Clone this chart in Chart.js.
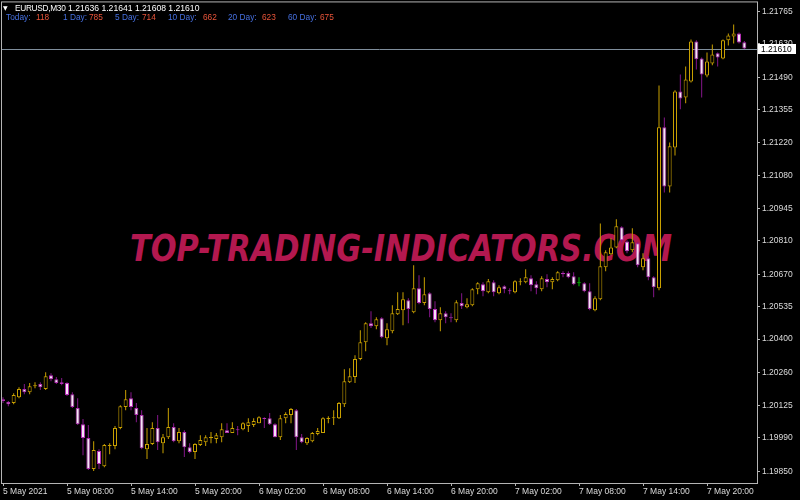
<!DOCTYPE html>
<html>
<head>
<meta charset="utf-8">
<script src="https://cdn.jsdelivr.net/npm/chart.js@4/dist/chart.umd.min.js"></script>
<style>
html,body{margin:0;padding:0;background:#000;overflow:hidden;}
#wrap{position:relative;width:800px;height:500px;background:#000;}
#wm{position:absolute;left:130px;top:229px;z-index:0;color:#b3184f;font:italic bold 38px 'DejaVu Sans',sans-serif;line-height:38px;white-space:nowrap;transform-origin:0 0;}
#c{position:absolute;left:0;top:0;z-index:1;}
.h{position:absolute;z-index:2;font:8.3px 'Liberation Sans',Arial,sans-serif;line-height:8px;white-space:nowrap;}
.w{color:#ffffff;}
.b{color:#4670e0;}
.r{color:#ea553a;}
</style>
</head>
<body>
<div id="wrap">
  <div id="wm">TOP-TRADING-INDICATORS.COM</div>
  <canvas id="c" width="800" height="500"></canvas>
  <span class="h w" style="left:3px;top:4px;font-family:'DejaVu Sans';font-size:6px;">▼</span>
  <span class="h w" style="left:15px;top:4px;letter-spacing:-0.3px;">EURUSD,M30</span>
  <span class="h w" style="left:68px;top:4px;font-size:8.6px;">1.21636 1.21641 1.21608 1.21610</span>
  <span class="h b" style="left:6px;top:13px;">Today:</span><span class="h r" style="left:36px;top:13px;">118</span>
  <span class="h b" style="left:63px;top:13px;">1 Day:</span><span class="h r" style="left:89px;top:13px;">785</span>
  <span class="h b" style="left:115px;top:13px;">5 Day:</span><span class="h r" style="left:142px;top:13px;">714</span>
  <span class="h b" style="left:168px;top:13px;">10 Day:</span><span class="h r" style="left:203px;top:13px;">662</span>
  <span class="h b" style="left:228px;top:13px;">20 Day:</span><span class="h r" style="left:262px;top:13px;">623</span>
  <span class="h b" style="left:288px;top:13px;">60 Day:</span><span class="h r" style="left:320px;top:13px;">675</span>
</div>
<script>
// EURUSD M30, 5 May 2021 02:00 ... 7 May 2021 23:30 (140 bars)
const open = [1.20150,1.20138,1.20134,1.20158,1.20192,1.20179,1.20204,1.20213,1.20192,1.20250,
1.20233,1.20221,1.20217,1.20171,1.20113,1.20046,1.19988,1.19859,1.19934,1.19871,
1.19955,1.19955,1.20030,1.20117,1.20154,1.20113,1.20084,1.19942,1.19963,1.20030,
1.19967,1.19992,1.20034,1.19975,1.20013,1.19950,1.19930,1.19959,1.19971,1.19988,
1.19984,1.19992,1.20021,1.20009,1.20025,1.20025,1.20038,1.20042,1.20050,1.20071,
1.20071,1.20046,1.19992,1.20071,1.20084,1.20104,1.19992,1.19967,1.19975,1.20005,
1.20009,1.20067,1.20071,1.20071,1.20129,1.20221,1.20242,1.20317,1.20387,1.20466,
1.20454,1.20487,1.20404,1.20433,1.20504,1.20520,1.20562,1.20512,1.20612,1.20550,
1.20591,1.20525,1.20479,1.20508,1.20491,1.20479,1.20550,1.20533,1.20541,1.20608,
1.20629,1.20595,1.20637,1.20591,1.20620,1.20604,1.20595,1.20637,1.20637,1.20654,
1.20629,1.20608,1.20650,1.20637,1.20645,1.20675,1.20675,1.20662,1.20633,1.20633,
1.20599,1.20520,1.20566,1.20699,1.20753,1.20782,1.20866,1.20807,1.20770,1.20799,
1.20699,1.20737,1.20658,1.20612,1.21282,1.21036,1.21198,1.21431,1.21406,1.21473,
1.21639,1.21569,1.21498,1.21548,1.21590,1.21569,1.21644,1.21660,1.21673,1.21636];
const high = [1.20158,1.20142,1.20175,1.20200,1.20213,1.20217,1.20221,1.20221,1.20262,1.20258,
1.20242,1.20238,1.20221,1.20179,1.20154,1.20067,1.20042,1.19975,1.19942,1.19963,
1.19967,1.20038,1.20125,1.20188,1.20179,1.20134,1.20104,1.20030,1.20054,1.20084,
1.20005,1.20113,1.20050,1.20030,1.20021,1.19967,1.19967,1.20000,1.20000,1.20013,
1.20009,1.20050,1.20050,1.20054,1.20038,1.20054,1.20071,1.20071,1.20079,1.20075,
1.20092,1.20050,1.20084,1.20096,1.20113,1.20109,1.20005,1.19992,1.20013,1.20030,
1.20075,1.20079,1.20104,1.20138,1.20275,1.20279,1.20333,1.20437,1.20470,1.20516,
1.20491,1.20491,1.20466,1.20541,1.20595,1.20595,1.20570,1.20708,1.20666,1.20658,
1.20595,1.20558,1.20533,1.20516,1.20508,1.20562,1.20591,1.20570,1.20612,1.20637,
1.20637,1.20650,1.20645,1.20624,1.20624,1.20612,1.20645,1.20654,1.20691,1.20666,
1.20641,1.20662,1.20670,1.20658,1.20683,1.20683,1.20683,1.20679,1.20658,1.20637,
1.20633,1.20579,1.20882,1.20770,1.20820,1.20899,1.20870,1.20812,1.20862,1.20803,
1.20758,1.20745,1.20662,1.21456,1.21323,1.21219,1.21436,1.21502,1.21535,1.21648,
1.21644,1.21573,1.21594,1.21627,1.21594,1.21648,1.21673,1.21710,1.21677,1.21641];
const low = [1.20134,1.20121,1.20129,1.20154,1.20171,1.20171,1.20196,1.20188,1.20188,1.20225,
1.20213,1.20208,1.20163,1.20113,1.20042,1.19917,1.19855,1.19851,1.19859,1.19867,
1.19921,1.19942,1.20025,1.20104,1.20104,1.20054,1.19942,1.19901,1.19959,1.19938,
1.19925,1.19984,1.19971,1.19967,1.19909,1.19925,1.19901,1.19955,1.19955,1.19967,
1.19967,1.19971,1.20009,1.20009,1.20000,1.20021,1.20013,1.20034,1.20050,1.20030,
1.20042,1.19992,1.19980,1.20050,1.20050,1.19938,1.19967,1.19959,1.19971,1.20000,
1.20009,1.20050,1.20042,1.20067,1.20117,1.20217,1.20217,1.20312,1.20350,1.20446,
1.20441,1.20404,1.20375,1.20425,1.20500,1.20458,1.20466,1.20508,1.20545,1.20541,
1.20491,1.20470,1.20433,1.20466,1.20470,1.20470,1.20525,1.20529,1.20537,1.20587,
1.20579,1.20591,1.20579,1.20587,1.20591,1.20587,1.20591,1.20624,1.20633,1.20599,
1.20587,1.20599,1.20616,1.20608,1.20641,1.20658,1.20654,1.20624,1.20620,1.20595,
1.20520,1.20516,1.20562,1.20683,1.20749,1.20778,1.20803,1.20758,1.20762,1.20699,
1.20687,1.20645,1.20574,1.20604,1.21011,1.21011,1.21165,1.21357,1.21382,1.21469,
1.21523,1.21406,1.21490,1.21540,1.21535,1.21565,1.21623,1.21631,1.21631,1.21608];
const close = [1.20142,1.20129,1.20167,1.20192,1.20179,1.20204,1.20208,1.20200,1.20246,1.20233,
1.20217,1.20213,1.20167,1.20117,1.20046,1.19988,1.19859,1.19938,1.19880,1.19959,
1.19959,1.20030,1.20121,1.20150,1.20117,1.20084,1.19946,1.19963,1.20030,1.19971,
1.19992,1.20034,1.19975,1.20013,1.19950,1.19930,1.19963,1.19980,1.19992,1.19992,
1.20000,1.20025,1.20009,1.20030,1.20021,1.20050,1.20054,1.20059,1.20075,1.20067,
1.20046,1.19992,1.20071,1.20088,1.20109,1.19992,1.19971,1.19988,1.20009,1.20017,
1.20071,1.20071,1.20075,1.20134,1.20225,1.20246,1.20317,1.20387,1.20466,1.20454,
1.20483,1.20408,1.20441,1.20508,1.20525,1.20566,1.20525,1.20612,1.20550,1.20587,
1.20525,1.20479,1.20508,1.20491,1.20487,1.20554,1.20537,1.20545,1.20608,1.20633,
1.20599,1.20641,1.20595,1.20616,1.20608,1.20599,1.20641,1.20641,1.20658,1.20624,
1.20612,1.20654,1.20637,1.20650,1.20679,1.20670,1.20658,1.20629,1.20633,1.20599,
1.20525,1.20570,1.20703,1.20762,1.20782,1.20870,1.20812,1.20766,1.20803,1.20708,
1.20737,1.20658,1.20616,1.21282,1.21036,1.21203,1.21431,1.21402,1.21481,1.21639,
1.21565,1.21502,1.21556,1.21585,1.21573,1.21644,1.21664,1.21673,1.21635,1.21610];

// time-axis labels and the bar index they sit on
const xTickIndex  = [0, 12, 24, 36, 48, 60, 72, 84, 96, 108, 120, 132];
const xTickLabels = ['5 May 2021','5 May 08:00','5 May 14:00','5 May 20:00','6 May 02:00','6 May 08:00',
                     '6 May 14:00','6 May 20:00','7 May 02:00','7 May 08:00','7 May 14:00','7 May 20:00'];
// price-axis tick labels
const yTicks = [1.21765,1.21630,1.21490,1.21355,1.21220,1.21080,1.20945,1.20810,1.20670,1.20535,1.20400,1.20260,1.20125,1.19990,1.19850];

const BULL = '#c8a000', BULL_FILL = '#000000';
const BEAR = '#b22fb2', BEAR_FILL = '#f7e2f7', BEAR_WICK = '#84168a';
const DOJI = '#00c000';

const idx = open.map((_, i) => i);
const kind = idx.map(i => close[i] > open[i] ? 1 : (close[i] < open[i] ? -1 : 0));
const bodyData = idx.map(i => ({x: i, y: [open[i], close[i]]}));
const wickData = idx.map(i => ({x: i, y: [low[i], high[i]]}));
const bodyBorder = kind.map(k => k > 0 ? BULL : (k < 0 ? BEAR : DOJI));
const bodyFill = kind.map(k => k > 0 ? BULL_FILL : (k < 0 ? BEAR_FILL : DOJI));
const wickColor = kind.map(k => k > 0 ? BULL : (k < 0 ? BEAR_WICK : DOJI));

const AXIS = '#b4b4b4';
const TXT = '#dcdcdc';
const FONT_X = {family: "'Liberation Sans', Arial, sans-serif", size: 8.5};
const FONT_Y = {family: "'Liberation Sans', Arial, sans-serif", size: 8.5, lineHeight: 0.1};

const frame = {
  id: 'frame',
  beforeDatasetsDraw(chart) {
    const {ctx, chartArea: a, scales: {y}} = chart;
    const py = Math.round(y.getPixelForValue(close[close.length - 1])) + 0.5;
    ctx.save();
    ctx.strokeStyle = '#7f8e9c';
    ctx.lineWidth = 1;
    ctx.beginPath();
    ctx.moveTo(a.left, py);
    ctx.lineTo(a.right, py);
    ctx.stroke();
    ctx.restore();
  },
  afterDraw(chart) {
    const {ctx, chartArea: a, scales: {y}} = chart;
    ctx.save();
    ctx.strokeStyle = AXIS;
    ctx.lineWidth = 1;
    ctx.strokeRect(a.left - 0.5, a.top - 0.5, a.right - a.left + 1, a.bottom - a.top + 1);
    const last = close[close.length - 1];
    const py = Math.round(y.getPixelForValue(last));
    ctx.fillStyle = '#ffffff';
    ctx.fillRect(a.right + 1, py - 5, 38, 10);
    ctx.fillStyle = '#000000';
    ctx.font = "8.5px 'Liberation Sans', Arial, sans-serif";
    ctx.textBaseline = 'middle';
    ctx.textAlign = 'left';
    ctx.fillText(last.toFixed(5), a.right + 4, py + 0.5);
    ctx.restore();
  }
};

new Chart(document.getElementById('c'), {
  type: 'bar',
  data: {
    datasets: [
      {
        label: 'body', data: bodyData, order: 0, grouped: false,
        backgroundColor: bodyFill, borderColor: bodyBorder, borderWidth: 1,
        borderSkipped: false, barThickness: 4, minBarLength: 1, inflateAmount: 0
      },
      {
        label: 'wick', data: wickData, order: 1, grouped: false,
        backgroundColor: wickColor, borderWidth: 0, barThickness: 1, inflateAmount: 0
      }
    ]
  },
  options: {
    responsive: false,
    animation: false,
    devicePixelRatio: 1,
    layout: {padding: {left: 2, top: 2, right: 0, bottom: 0}},
    plugins: {legend: {display: false}, tooltip: {enabled: false}},
    scales: {
      x: {
        type: 'linear', min: -0.1875, max: 141.375, offset: false,
        afterBuildTicks: s => { s.ticks = xTickIndex.map(v => ({value: v})); },
        afterFit: s => { s.height = 17; },
        grid: {display: true, drawOnChartArea: false, drawTicks: true, tickLength: 3, color: AXIS, offset: false},
        border: {display: false},
        ticks: {
          autoSkip: false, maxRotation: 0, minRotation: 0, align: 'start', padding: 1,
          color: TXT, font: FONT_X,
          callback: v => xTickLabels[xTickIndex.indexOf(v)]
        }
      },
      y: {
        type: 'linear', position: 'right', min: 1.19801, max: 1.21802,
        afterBuildTicks: s => { s.ticks = yTicks.map(v => ({value: v})); },
        afterFit: s => { s.width = 43; },
        grid: {display: true, drawOnChartArea: false, drawTicks: true, tickLength: 3, color: AXIS},
        border: {display: false},
        ticks: {autoSkip: false, padding: 2, color: TXT, font: FONT_Y, callback: v => v.toFixed(5)}
      }
    }
  },
  plugins: [frame]
});

// fit the watermark to its width in the reference
const wm = document.getElementById('wm');
const w = wm.getBoundingClientRect().width;
wm.style.transform = 'scaleX(' + (542 / w) + ')';
</script>
</body>
</html>
